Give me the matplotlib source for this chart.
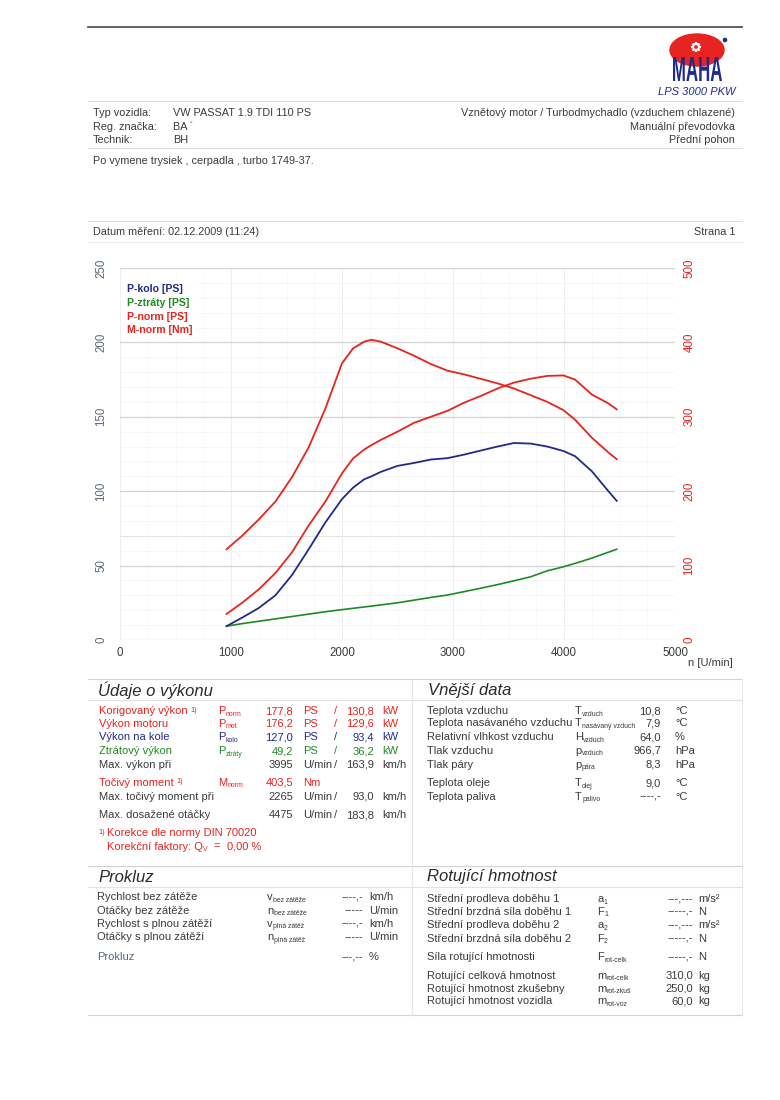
import numpy as np
import matplotlib
matplotlib.use("Agg")
import matplotlib.pyplot as plt
from matplotlib.patches import Ellipse, Rectangle, Circle, PathPatch
from matplotlib.textpath import TextPath
from matplotlib.font_manager import FontProperties
from matplotlib.transforms import Affine2D
from matplotlib.ticker import MultipleLocator

plt.rcParams['font.family'] = ['Liberation Sans', 'DejaVu Sans']

RED = '#e8231c'
BLUE = '#1f2a8c'
GREEN = '#1e8a22'
TXT = '#3a3a3a'
AXC = '#5a6878'

rpm = [960, 1100, 1250, 1400, 1550, 1700, 1850, 2000, 2100, 2200, 2265, 2350,
       2500, 2650, 2800, 2950, 3100, 3250, 3400, 3550, 3700, 3850, 3995, 4100,
       4250, 4400, 4475]
m_norm = [122, 140, 162, 186, 219, 259, 311, 372, 392, 401, 403.5, 401,
          392, 382, 371, 362, 357, 351, 345, 338, 329, 320, 309, 296,
          272, 252, 243]
p_norm = [17.5, 25, 34, 45, 59, 77, 93, 112, 122, 128, 131, 134.5,
          140, 146, 150, 154, 159.5, 164, 169, 173, 175.6, 177.5, 177.8, 175,
          165, 159, 155]
p_kolo = [9.3, 15, 21.5, 30, 43.7, 61, 79, 94.7, 102.4, 108, 110, 113,
          117, 119, 121.3, 122.2, 124.6, 127.3, 130, 132.4, 132, 130, 127.0, 123.5,
          113.5, 100, 93.5]
p_ztraty = [9.3, 11, 12.6, 14.2, 15.8, 17.4, 19, 20.4, 21.3, 22.2, 22.8, 23.6,
            25, 26.8, 28.6, 30.2, 32.5, 34.8, 37.2, 39.8, 42.5, 46.5, 49.2, 51.5,
            55, 59, 61]

legend_labels = ["P-kolo [PS]", "P-ztráty [PS]", "P-norm [PS]", "M-norm [Nm]"]
legend_colors = [BLUE, GREEN, RED, RED]

# ---- header ----
veh_keys = ["Typ vozidla:", "Reg. značka:", "Technik:"]
veh_vals = ["VW PASSAT 1.9 TDI 110 PS", "BA ´", "BH"]
veh_right = ["Vznětový motor / Turbodmychadlo (vzduchem chlazené)",
             "Manuální převodovka", "Přední pohon"]
note = "Po vymene trysiek , cerpadla , turbo 1749-37."
date_txt = "Datum měření: 02.12.2009 (11:24)"
page_txt = "Strana 1"

# ---- Údaje o výkonu ----
perf_labels = ["Korigovaný výkon", "Výkon motoru", "Výkon na kole", "Ztrátový výkon", "Max. výkon při"]
perf_sup = [True, False, False, False, False]
perf_syms = [("P", "norm"), ("P", "mot"), ("P", "kolo"), ("P", "ztráty"), None]
perf_vals = ["177,8", "176,2", "127,0", "49,2", "3995"]
perf_units = ["PS", "PS", "PS", "PS", "U/min"]
perf_vals2 = ["130,8", "129,6", "93,4", "36,2", "163,9"]
perf_units2 = ["kW", "kW", "kW", "kW", "km/h"]
perf_colors = [RED, RED, BLUE, GREEN, TXT]

# ---- Vnější data ----
ext_labels = ["Teplota vzduchu", "Teplota nasávaného vzduchu", "Relativní vlhkost vzduchu",
              "Tlak vzduchu", "Tlak páry", "Teplota oleje", "Teplota paliva"]
ext_syms = [("T", "vzduch"), ("T", "nasávaný vzduch"), ("H", "vzduch"), ("p", "vzduch"),
            ("p", "pára"), ("T", "olej"), ("T", "palivo")]
ext_vals = ["10,8", "7,9", "64,0", "966,7", "8,3", "9,0", "----,-"]
ext_units = ["°C", "°C", "%", "hPa", "hPa", "°C", "°C"]

# ---- Prokluz ----
slip_labels = ["Rychlost bez zátěže", "Otáčky bez zátěže", "Rychlost s plnou zátěží",
               "Otáčky s plnou zátěží", "Prokluz"]
slip_syms = [("v", "bez zátěže"), ("n", "bez zátěže"), ("v", "plná zátěž"), ("n", "plná zátěž"), None]
slip_vals = ["----,-", "-----", "----,-", "-----", "---,--"]
slip_units = ["km/h", "U/min", "km/h", "U/min", "%"]

# ---- Rotující hmotnost ----
rot_labels = ["Střední prodleva doběhu 1", "Střední brzdná síla doběhu 1",
              "Střední prodleva doběhu 2", "Střední brzdná síla doběhu 2",
              "Síla rotující hmotnosti", "Rotující celková hmotnost",
              "Rotující hmotnost zkušebny", "Rotující hmotnost vozidla"]
rot_syms = [("a", "1"), ("F", "1"), ("a", "2"), ("F", "2"), ("F", "rot-celk"),
            ("m", "rot-celk"), ("m", "rot-zkuš"), ("m", "rot-voz")]
rot_vals = ["---,---", "-----,-", "---,---", "-----,-", "-----,-", "310,0", "250,0", "60,0"]
rot_units = ["m/s²", "N", "m/s²", "N", "N", "kg", "kg", "kg"]

W, H = 780, 1100
FS = 8.0
fig = plt.figure(figsize=(W / 100, H / 100), dpi=100)
fig.patch.set_facecolor('white')

# ---------------- chart ----------------
x0, x1, y0, y1 = 120, 675, 640, 268
ax = fig.add_axes([x0 / W, 1 - y0 / H, (x1 - x0) / W, (y0 - y1) / H], zorder=1)
ax.set_xlim(0, 5000)
ax.set_ylim(0, 250)
for s in ax.spines.values():
    s.set_visible(False)
ax.xaxis.set_major_locator(MultipleLocator(1000))
ax.xaxis.set_minor_locator(MultipleLocator(250))
ax.yaxis.set_major_locator(MultipleLocator(50))
ax.yaxis.set_minor_locator(MultipleLocator(10))
ax.grid(True, which='major', axis='y', color='#d2d2d2', lw=0.9)
ax.grid(True, which='minor', axis='y', color='#f3f3f3', lw=0.5)
ax.grid(True, which='major', axis='x', color='#ebebeb', lw=0.6)
ax.grid(True, which='minor', axis='x', color='#f6f6f6', lw=0.5)
ax.axhline(70, color='#c4c4c4', lw=0.7, zorder=0.5)
ax.tick_params(axis='x', which='both', length=0, pad=5, labelsize=8.3, colors=TXT)
ax.tick_params(axis='y', which='both', length=0, pad=9, labelsize=8.3, colors=AXC,
               labelrotation=90)
for lab in ax.get_yticklabels():
    lab.set_va('center')

ax2 = ax.twinx()
ax2.set_ylim(0, 500)
for s in ax2.spines.values():
    s.set_visible(False)
ax2.yaxis.set_major_locator(MultipleLocator(100))
ax2.tick_params(axis='y', length=0, pad=6, labelsize=8.3, colors=RED, labelrotation=90)
for lab in ax2.get_yticklabels():
    lab.set_va('center')

ax.plot(rpm, p_ztraty, color=GREEN, lw=1.2, zorder=3)
ax.plot(rpm, p_kolo, color=BLUE, lw=1.3, zorder=3)
ax.plot(rpm, p_norm, color=RED, lw=1.3, zorder=3)
ax2.plot(rpm, m_norm, color=RED, lw=1.3, zorder=3)

# ---------------- overlay for sheet text ----------------
fg = fig.add_axes([0, 0, 1, 1], zorder=5)
fg.set_xlim(0, W)
fg.set_ylim(H, 0)
fg.axis('off')
fg.patch.set_alpha(0)
r = fig.canvas.get_renderer()


def txt(x, y, s, color=TXT, size=FS, ha='left', **kw):
    return fg.text(x, y, s, color=color, fontsize=size, ha=ha, va='center', **kw)


def width(t):
    return t.get_window_extent(renderer=r).width


def sym(x, y, main, sub, color=TXT, size=FS):
    t = txt(x, y, main, color, size)
    return txt(x + width(t) + 0.3, y + 3, sub, color, size * 0.62)


def hline(y, xa=88, xb=742, color='#d6d6d6', lw=0.8):
    fg.plot([xa, xb], [y, y], color=color, lw=lw)


# header lines
hline(27, color='#555555', lw=1.3)
hline(101, color='#dddddd')
hline(148, color='#dddddd')
hline(221, color='#dddddd')
hline(242, color='#ececec')

# logo
fg.add_patch(Ellipse((697, 50), 54, 32, color='#e82420', zorder=3))
fg.add_patch(Circle((696, 47), 3.2, color='white', zorder=4))
for a in np.linspace(0, 2 * np.pi, 8, endpoint=False):
    fg.plot([696, 696 + 5 * np.cos(a)], [47, 47 + 5 * np.sin(a)], color='white', lw=1.6,
            zorder=4, solid_capstyle='butt')
fg.add_patch(Circle((696, 47), 1.2, color='#e82420', zorder=5))
fg.add_patch(Circle((725, 40), 1.6, color=BLUE, zorder=4))
tp = TextPath((0, 0), "MAHA", size=10, prop=FontProperties(family='Liberation Sans', weight='bold'))
bb = tp.get_extents()
tr = Affine2D().translate(-bb.x0, -bb.y0).scale(49 / bb.width, -24 / bb.height).translate(673, 81)
fg.add_patch(PathPatch(tr.transform_path(tp), color=BLUE, lw=0, zorder=6))
txt(736, 92, "LPS 3000 PKW", color=BLUE, size=8, ha='right', style='italic')

# vehicle info
for i, (k, v, rt) in enumerate(zip(veh_keys, veh_vals, veh_right)):
    y = 113 + i * 13.5
    txt(93, y, k, size=7.8)
    txt(173, y, v, size=7.8)
    txt(735, y, rt, size=7.8, ha='right')
txt(93, 161, note, size=7.8)
txt(93, 232, date_txt, size=7.8)
txt(735, 232, page_txt, size=7.8, ha='right')

# legend in chart
fg.add_patch(Rectangle((121, 278), 75, 59, color='white', zorder=2))
for i, (lab, c) in enumerate(zip(legend_labels, legend_colors)):
    txt(127, 289 + i * 13.8, lab, color=c, size=7.6, weight='bold')
txt(688, 663, "n [U/min]", size=8)

# section frames
hline(679, color='#d2d2d2')
hline(700, color='#e2e2e2')
hline(866, color='#d2d2d2')
hline(887, color='#e2e2e2')
hline(1015, color='#d2d2d2')
fg.plot([412, 412], [679, 1015], color='#e8e8e8', lw=0.8)
fg.plot([742, 742], [679, 1015], color='#e8e8e8', lw=0.8)

for x, y, s in [(98, 690, "Údaje o výkonu"), (428, 690, "Vnější data"),
                (98, 877, "Prokluz"), (427, 877, "Rotující hmotnost")]:
    txt(x, y, s, size=12, style='italic', color='#2a2a2a')

# Údaje o výkonu
rows_y = [711, 724, 737.5, 751, 764.5]
for y, lab, sup, sy, v, u, v2, u2, c in zip(rows_y, perf_labels, perf_sup, perf_syms, perf_vals,
                                            perf_units, perf_vals2, perf_units2, perf_colors):
    t = txt(99, y, lab, color=c)
    if sup:
        txt(99 + width(t) + 3, y - 1, "1)", color=c, size=5.2)
    if sy:
        sym(218, y, sy[0], sy[1], color=c)
    txt(293, y, v, color=c, ha='right')
    txt(303, y, u, color=c)
    txt(334, y, "/", color=c)
    txt(374, y, v2, color=c, ha='right')
    txt(382, y, u2, color=c)

t = txt(99, 782.5, "Točivý moment", color=RED)
txt(99 + width(t) + 3, 781.5, "1)", color=RED, size=5.2)
sym(218, 782.5, "M", "norm", color=RED)
txt(293, 782.5, "403,5", color=RED, ha='right')
txt(303, 782.5, "Nm", color=RED)
for y, lab, v, v2 in [(796.5, "Max. točivý moment při", "2265", "93,0"),
                      (815, "Max. dosažené otáčky", "4475", "183,8")]:
    txt(99, y, lab)
    txt(293, y, v, ha='right')
    txt(303, y, "U/min")
    txt(334, y, "/")
    txt(374, y, v2, ha='right')
    txt(382, y, "km/h")
txt(98, 832, "1)", color=RED, size=5.2)
txt(107, 833, "Korekce dle normy DIN 70020", color=RED)
sym(107, 846.5, "Korekční faktory: Q", "V", color=RED)
txt(213, 846.5, "=", color=RED)
txt(227, 846.5, "0,00 %", color=RED)

# Vnější data
ext_y = [711, 723.5, 737, 750.5, 764.5, 783, 796.5]
for y, lab, sy, v, u in zip(ext_y, ext_labels, ext_syms, ext_vals, ext_units):
    txt(427, y, lab)
    sym(575, y, sy[0], sy[1])
    txt(661, y, v, ha='right')
    txt(675, y, u)

# Prokluz
slip_y = [897.5, 910.5, 924, 937.5, 957]
for y, lab, sy, v, u in zip(slip_y, slip_labels, slip_syms, slip_vals, slip_units):
    txt(97, y, lab, color=AXC if sy is None else TXT)
    if sy:
        sym(267, y, sy[0], sy[1])
    txt(363, y, v, ha='right')
    txt(369, y, u)

# Rotující hmotnost
rot_y = [899, 912, 925, 938.5, 957.5, 976, 988.5, 1001]
for y, lab, sy, v, u in zip(rot_y, rot_labels, rot_syms, rot_vals, rot_units):
    txt(427, y, lab)
    sym(597, y, sy[0], sy[1])
    txt(693, y, v, ha='right')
    txt(698, y, u)

fig.savefig("out.png", dpi=100)
